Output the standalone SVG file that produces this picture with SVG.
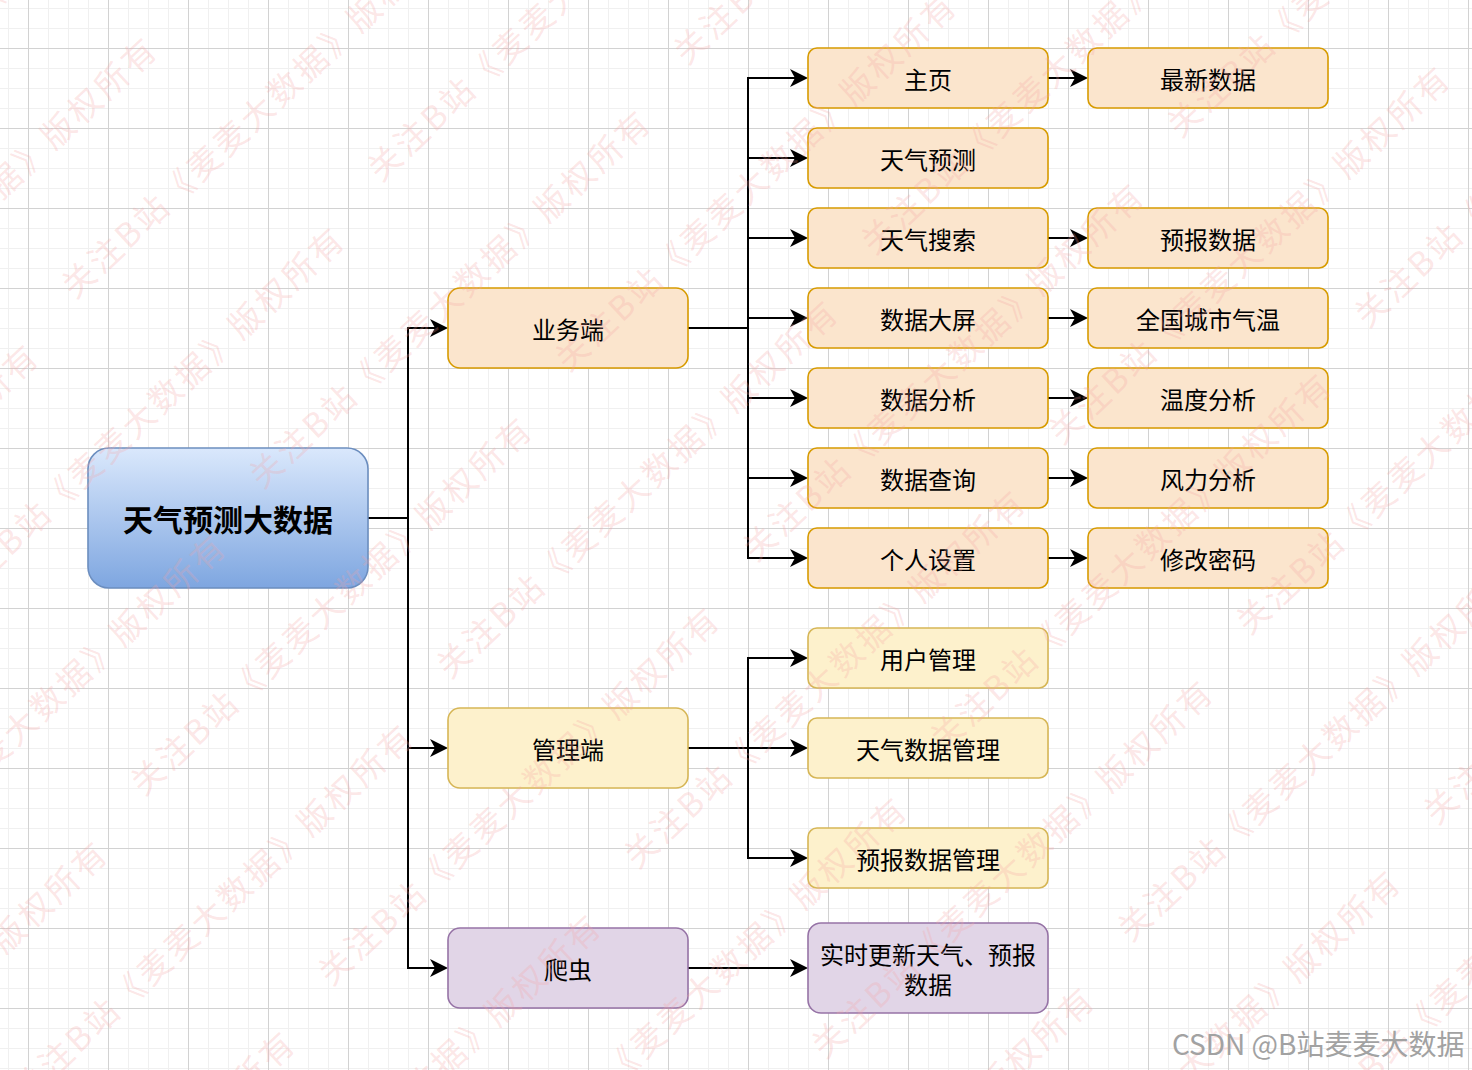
<svg xmlns="http://www.w3.org/2000/svg" width="1472" height="1070" viewBox="0 0 1472 1070">
<style>
.lbl{font-family:"Noto Sans CJK SC","Noto Sans",sans-serif;font-size:24px;fill:#000;text-anchor:middle;dominant-baseline:central}
.root{font-size:30px;font-weight:bold}
.peach{fill:#fbe5cd;stroke:#d79b00;stroke-width:1.6}
.yellow{fill:#fdf1cc;stroke:#d6b656;stroke-width:1.6}
.purple{fill:#e1d5e7;stroke:#9673a6;stroke-width:1.6}
.edge{fill:none;stroke:#000;stroke-width:2;marker-end:url(#arr)}
.line{fill:none;stroke:#000;stroke-width:2}
.wm{font-family:"Noto Sans CJK SC",sans-serif;font-size:33px;letter-spacing:3.5px;fill:#f5a3a3;fill-opacity:0.27}
.csdn{font-family:"Noto Sans CJK SC","Noto Sans",sans-serif;font-size:28px;fill:#a2a2a2}
</style>
<defs>
<pattern id="gMinor" patternUnits="userSpaceOnUse" x="8" y="8" width="20" height="20"><path d="M0 0.5H20M0.5 0V20" stroke="#f0f0f0" stroke-width="1" fill="none"/></pattern>
<pattern id="gMajor" patternUnits="userSpaceOnUse" x="28" y="48" width="80" height="80"><path d="M0 0.5H80M0.5 0V80" stroke="#d2d2d2" stroke-width="1" fill="none"/></pattern>
<linearGradient id="rootGrad" x1="0" y1="0" x2="0" y2="1"><stop offset="0" stop-color="#dae8fc"/><stop offset="1" stop-color="#7ea6e0"/></linearGradient>
<marker id="arr" markerUnits="userSpaceOnUse" viewBox="0 0 18 18" refX="14" refY="9" markerWidth="18" markerHeight="18" orient="auto"><path d="M0,0 L18,9 L0,18 L5,9 Z" fill="#000"/></marker>
</defs>
<rect width="1472" height="1070" fill="#fff"/>
<rect width="1472" height="1070" fill="url(#gMinor)"/>
<rect width="1472" height="1070" fill="url(#gMajor)"/>

<g id="connectors">
<path class="line" d="M368 518H408"/>
<path class="edge" d="M408 518V328H444"/>
<path class="edge" d="M408 518V748H444"/>
<path class="edge" d="M408 518V968H444"/>
<path class="edge" d="M688 328H748V78H804"/>
<path class="edge" d="M688 328H748V158H804"/>
<path class="edge" d="M688 328H748V238H804"/>
<path class="edge" d="M688 328H748V318H804"/>
<path class="edge" d="M688 328H748V398H804"/>
<path class="edge" d="M688 328H748V478H804"/>
<path class="edge" d="M688 328H748V558H804"/>
<path class="edge" d="M1048 78H1084"/>
<path class="edge" d="M1048 238H1084"/>
<path class="edge" d="M1048 318H1084"/>
<path class="edge" d="M1048 398H1084"/>
<path class="edge" d="M1048 478H1084"/>
<path class="edge" d="M1048 558H1084"/>
<path class="edge" d="M688 748H748V658H804"/>
<path class="edge" d="M688 748H804"/>
<path class="edge" d="M688 748H748V858H804"/>
<path class="edge" d="M688 968H804"/>
</g>

<g id="root"><rect x="88" y="448" width="280" height="140" rx="21" fill="url(#rootGrad)" stroke="#6c8ebf" stroke-width="1.6"/><text class="lbl root" x="228" y="518">天气预测大数据</text></g>

<g id="yewuduan"><rect class="peach" x="448" y="288" width="240" height="80" rx="12"/><text class="lbl" x="568" y="328">业务端</text></g>
<g id="guanliduan"><rect class="yellow" x="448" y="708" width="240" height="80" rx="12"/><text class="lbl" x="568" y="748">管理端</text></g>
<g id="pachong"><rect class="purple" x="448" y="928" width="240" height="80" rx="12"/><text class="lbl" x="568" y="968">爬虫</text></g>

<g id="zhuye"><rect class="peach" x="808" y="48" width="240" height="60" rx="9"/><text class="lbl" x="928" y="78">主页</text></g>
<g id="tianqiyuce"><rect class="peach" x="808" y="128" width="240" height="60" rx="9"/><text class="lbl" x="928" y="158">天气预测</text></g>
<g id="tianqisousuo"><rect class="peach" x="808" y="208" width="240" height="60" rx="9"/><text class="lbl" x="928" y="238">天气搜索</text></g>
<g id="shujudaping"><rect class="peach" x="808" y="288" width="240" height="60" rx="9"/><text class="lbl" x="928" y="318">数据大屏</text></g>
<g id="shujufenxi"><rect class="peach" x="808" y="368" width="240" height="60" rx="9"/><text class="lbl" x="928" y="398">数据分析</text></g>
<g id="shujuchaxun"><rect class="peach" x="808" y="448" width="240" height="60" rx="9"/><text class="lbl" x="928" y="478">数据查询</text></g>
<g id="gerenshezhi"><rect class="peach" x="808" y="528" width="240" height="60" rx="9"/><text class="lbl" x="928" y="558">个人设置</text></g>

<g id="zuixinshuju"><rect class="peach" x="1088" y="48" width="240" height="60" rx="9"/><text class="lbl" x="1208" y="78">最新数据</text></g>
<g id="yubaoshuju"><rect class="peach" x="1088" y="208" width="240" height="60" rx="9"/><text class="lbl" x="1208" y="238">预报数据</text></g>
<g id="quanguo"><rect class="peach" x="1088" y="288" width="240" height="60" rx="9"/><text class="lbl" x="1208" y="318">全国城市气温</text></g>
<g id="wendu"><rect class="peach" x="1088" y="368" width="240" height="60" rx="9"/><text class="lbl" x="1208" y="398">温度分析</text></g>
<g id="fengli"><rect class="peach" x="1088" y="448" width="240" height="60" rx="9"/><text class="lbl" x="1208" y="478">风力分析</text></g>
<g id="xiugaimima"><rect class="peach" x="1088" y="528" width="240" height="60" rx="9"/><text class="lbl" x="1208" y="558">修改密码</text></g>

<g id="yonghuguanli"><rect class="yellow" x="808" y="628" width="240" height="60" rx="9"/><text class="lbl" x="928" y="658">用户管理</text></g>
<g id="tianqishujuguanli"><rect class="yellow" x="808" y="718" width="240" height="60" rx="9"/><text class="lbl" x="928" y="748">天气数据管理</text></g>
<g id="yubaoshujuguanli"><rect class="yellow" x="808" y="828" width="240" height="60" rx="9"/><text class="lbl" x="928" y="858">预报数据管理</text></g>

<g id="shishigengxin"><rect class="purple" x="808" y="923" width="240" height="90" rx="13"/><text class="lbl" x="928" y="953.5">实时更新天气、预报</text><text class="lbl" x="928" y="983">数据</text></g>

<g id="watermark">
<text class="wm" transform="translate(-280.5,1221) rotate(-43)">关注B站《麦麦大数据》版权所有</text>
<text class="wm" transform="translate(-93,1411) rotate(-43)">关注B站《麦麦大数据》版权所有</text>
<text class="wm" transform="translate(-349.5,724) rotate(-43)">关注B站《麦麦大数据》版权所有</text>
<text class="wm" transform="translate(-162,914) rotate(-43)">关注B站《麦麦大数据》版权所有</text>
<text class="wm" transform="translate(25.5,1104) rotate(-43)">关注B站《麦麦大数据》版权所有</text>
<text class="wm" transform="translate(213,1294) rotate(-43)">关注B站《麦麦大数据》版权所有</text>
<text class="wm" transform="translate(-231,417) rotate(-43)">关注B站《麦麦大数据》版权所有</text>
<text class="wm" transform="translate(-43.5,607) rotate(-43)">关注B站《麦麦大数据》版权所有</text>
<text class="wm" transform="translate(144,797) rotate(-43)">关注B站《麦麦大数据》版权所有</text>
<text class="wm" transform="translate(331.5,987) rotate(-43)">关注B站《麦麦大数据》版权所有</text>
<text class="wm" transform="translate(519,1177) rotate(-43)">关注B站《麦麦大数据》版权所有</text>
<text class="wm" transform="translate(706.5,1367) rotate(-43)">关注B站《麦麦大数据》版权所有</text>
<text class="wm" transform="translate(-112.5,110) rotate(-43)">关注B站《麦麦大数据》版权所有</text>
<text class="wm" transform="translate(75,300) rotate(-43)">关注B站《麦麦大数据》版权所有</text>
<text class="wm" transform="translate(262.5,490) rotate(-43)">关注B站《麦麦大数据》版权所有</text>
<text class="wm" transform="translate(450,680) rotate(-43)">关注B站《麦麦大数据》版权所有</text>
<text class="wm" transform="translate(637.5,870) rotate(-43)">关注B站《麦麦大数据》版权所有</text>
<text class="wm" transform="translate(825,1060) rotate(-43)">关注B站《麦麦大数据》版权所有</text>
<text class="wm" transform="translate(1012.5,1250) rotate(-43)">关注B站《麦麦大数据》版权所有</text>
<text class="wm" transform="translate(381,183) rotate(-43)">关注B站《麦麦大数据》版权所有</text>
<text class="wm" transform="translate(568.5,373) rotate(-43)">关注B站《麦麦大数据》版权所有</text>
<text class="wm" transform="translate(756,563) rotate(-43)">关注B站《麦麦大数据》版权所有</text>
<text class="wm" transform="translate(943.5,753) rotate(-43)">关注B站《麦麦大数据》版权所有</text>
<text class="wm" transform="translate(1131,943) rotate(-43)">关注B站《麦麦大数据》版权所有</text>
<text class="wm" transform="translate(1318.5,1133) rotate(-43)">关注B站《麦麦大数据》版权所有</text>
<text class="wm" transform="translate(687,66) rotate(-43)">关注B站《麦麦大数据》版权所有</text>
<text class="wm" transform="translate(874.5,256) rotate(-43)">关注B站《麦麦大数据》版权所有</text>
<text class="wm" transform="translate(1062,446) rotate(-43)">关注B站《麦麦大数据》版权所有</text>
<text class="wm" transform="translate(1249.5,636) rotate(-43)">关注B站《麦麦大数据》版权所有</text>
<text class="wm" transform="translate(1437,826) rotate(-43)">关注B站《麦麦大数据》版权所有</text>
<text class="wm" transform="translate(1180.5,139) rotate(-43)">关注B站《麦麦大数据》版权所有</text>
<text class="wm" transform="translate(1368,329) rotate(-43)">关注B站《麦麦大数据》版权所有</text>
</g>
<text class="csdn" x="1172" y="1055">CSDN @B站麦麦大数据</text>
</svg>
